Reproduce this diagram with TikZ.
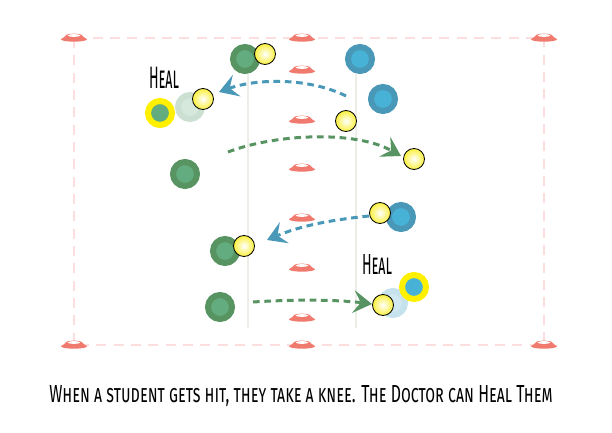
\documentclass[tikz,border=0pt]{standalone}
\usepackage{fontspec}
\newfontfamily\chalk{Fira Sans}
\usetikzlibrary{arrows.meta}

\definecolor{conered}{RGB}{240,122,110}
\definecolor{linepink}{RGB}{252,222,222}
\definecolor{fieldgrey}{RGB}{238,238,232}
\definecolor{greenout}{RGB}{88,148,98}
\definecolor{greenin}{RGB}{98,172,128}
\definecolor{blueout}{RGB}{74,152,184}
\definecolor{bluein}{RGB}{72,178,214}
\definecolor{ghostgreen}{RGB}{204,224,210}
\definecolor{ghostgreenin}{RGB}{214,232,219}
\definecolor{ghostblue}{RGB}{198,226,236}
\definecolor{ghostbluein}{RGB}{208,232,241}
\definecolor{ballyellow}{RGB}{250,240,60}
\definecolor{ringyellow}{RGB}{255,240,0}

\tikzset{cone/.pic={
  \fill[conered] (0,-0.04cm) ellipse [x radius=0.39cm, y radius=0.07cm];
  \fill[conered] (-0.37cm,-0.04cm) -- (-0.25cm,0.07cm) -- (0.25cm,0.07cm) -- (0.37cm,-0.04cm) -- cycle;
  \fill[conered] (0,0.07cm) ellipse [x radius=0.25cm, y radius=0.06cm];
  \fill[white] (0,0.075cm) ellipse [x radius=0.19cm, y radius=0.04cm];
}}

\begin{document}
\begin{tikzpicture}[x=0.03cm, y=-0.03cm]
		\tikzstyle{player}=[circle, minimum size=0.72cm, inner sep=0pt, line width=0.18cm]
		\tikzstyle{greenplayer}=[player, draw=greenout, fill=greenin]
		\tikzstyle{blueplayer}=[player, draw=blueout, fill=bluein]
		\tikzstyle{ghostg}=[player, draw=ghostgreen, fill=ghostgreenin]
		\tikzstyle{ghostb}=[player, draw=ghostblue, fill=ghostbluein]
		\tikzstyle{doctorg}=[player, draw=ringyellow, fill=greenin]
		\tikzstyle{doctorb}=[player, draw=ringyellow, fill=bluein]
		\tikzstyle{ball}=[circle, minimum size=0.63cm, inner sep=0pt, draw=black, line width=0.7pt, inner color=white, outer color=ballyellow]
		\tikzstyle{pass}=[line width=0.09cm, dash pattern=on 0.2cm off 0.14cm, -{Stealth[length=0.56cm, width=0.68cm, inset=0.22cm]}]
		\tikzstyle{label}=[inner sep=0pt, font=\chalk\scshape]

		\useasboundingbox (0,0) rectangle (612,433);

		% Field
		\coordinate (tl) at (74,38);
		\coordinate (br) at (544,345);
		\draw[linepink, line width=0.05cm, dash pattern=on 0.3cm off 0.22cm] (tl) rectangle (br);
		\coordinate (l1t) at (248,74);
		\coordinate (l1b) at (248,328);
		\coordinate (l2t) at (356,74);
		\coordinate (l2b) at (356,328);
		\draw[fieldgrey, line width=0.04cm] (l1t) -- (l1b);
		\draw[fieldgrey, line width=0.04cm] (l2t) -- (l2b);

		% Cones
		\foreach \x in {74,302,544}
		{
			\pic at (\x,38) {cone};
			\pic at (\x,345) {cone};
		}
		\foreach \y in {70,120,168,218,268,318}
			\pic at (302,\y) {cone};

		% Green team
		\node[greenplayer](g1) at (245,59){};
		\node[ghostg](g2) at (190,107){};
		\node[doctorg](doc1) at (160,113){};
		\node[greenplayer](g3) at (185,174){};
		\node[greenplayer](g4) at (225,251){};
		\node[greenplayer](g5) at (220,307){};

		% Blue team
		\node[blueplayer](b1) at (360,59){};
		\node[blueplayer](b2) at (383,99){};
		\node[blueplayer](b3) at (401,217){};
		\node[ghostb](b4) at (393,303){};
		\node[doctorb](doc2) at (414,287){};

		% Balls
		\node[ball](k1) at (265,54){};
		\node[ball](k2) at (203,99){};
		\node[ball](k3) at (346,121){};
		\node[ball](k4) at (414,159){};
		\node[ball](k5) at (380,213){};
		\node[ball](k6) at (244,246){};
		\node[ball](k7) at (383,305){};

		% Throws
		\coordinate (t1s) at (346,96);
		\coordinate (t1e) at (219,92);
		\coordinate (t2s) at (228,152);
		\coordinate (t2e) at (401,156);
		\coordinate (t3s) at (369,216);
		\coordinate (t3e) at (267,240);
		\coordinate (t4s) at (253,302);
		\coordinate (t4e) at (372,304);

		\draw[pass, blueout] (t1s) .. controls (310,78) and (258,78) .. (t1e);
		\draw[pass, greenout] (t2s) .. controls (275,134) and (355,130) .. (t2e);
		\draw[pass, blueout] (t3s) .. controls (330,220) and (300,226) .. (t3e);
		\draw[pass, greenout] (t4s) .. controls (300,299) and (340,300) .. (t4e);

		% Labels
		\node[label](heal1) at (164,78){\resizebox{0.9cm}{0.64cm}{Heal}};
		\node[label](heal2) at (377,265){\resizebox{0.9cm}{0.6cm}{Heal}};
		\node[label](caption) at (301,396){\resizebox{15.1cm}{0.51cm}{When a student gets hit, they take a knee. The Doctor can Heal Them}};
\end{tikzpicture}
\end{document}
